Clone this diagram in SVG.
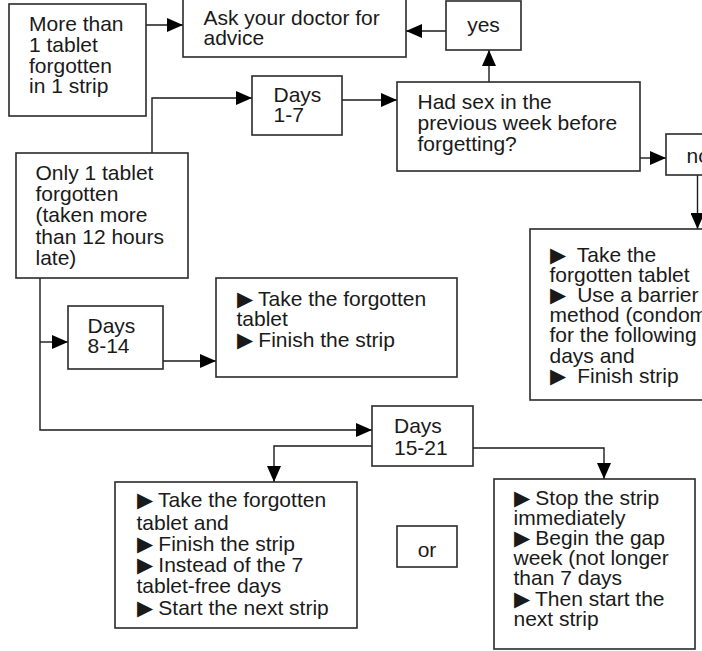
<svg xmlns="http://www.w3.org/2000/svg" width="702" height="651" viewBox="0 0 702 651">
<defs>
<style>
.box{fill:#fff;stroke:#2a2a2a;stroke-width:1.6}
.t{font-family:"Liberation Sans",Arial,sans-serif;font-size:21px;fill:#1a1a1a;white-space:pre}
.c{fill:none;stroke:#1a1a1a;stroke-width:1.4}
</style>
<marker id="ah" markerUnits="userSpaceOnUse" markerWidth="17" markerHeight="14" refX="16" refY="7" orient="auto">
<path d="M0,0 L16,7 L0,14 z" fill="#000"/>
</marker>
</defs>
<rect width="702" height="651" fill="#fff"/>
<g id="connectors">
<path class="c" d="M146,25 H183" marker-end="url(#ah)"/>
<path class="c" d="M152,153 V98 H252" marker-end="url(#ah)"/>
<path class="c" d="M342,100 H397" marker-end="url(#ah)"/>
<path class="c" d="M489,82 V50" marker-end="url(#ah)"/>
<path class="c" d="M446,31 H406" marker-end="url(#ah)"/>
<path class="c" d="M640,158 H666" marker-end="url(#ah)"/>
<path class="c" d="M697.5,175 V229" marker-end="url(#ah)"/>
<path class="c" d="M40,278 V430 H372" marker-end="url(#ah)"/>
<path class="c" d="M40,342 H68" marker-end="url(#ah)"/>
<path class="c" d="M163,361 H216" marker-end="url(#ah)"/>
<path class="c" d="M372,446 H274 V482" marker-end="url(#ah)"/>
<path class="c" d="M473,448 H604 V479" marker-end="url(#ah)"/>
</g>
<g id="more-than-one">
<rect class="box" x="9" y="4" width="137" height="112"/>
<text class="t"><tspan x="29" y="31">More than</tspan><tspan x="29" y="52">1 tablet</tspan><tspan x="29" y="72.5">forgotten</tspan><tspan x="29" y="93">in 1 strip</tspan></text>
</g>
<g id="ask-doctor">
<rect class="box" x="183" y="-5" width="223" height="62"/>
<text class="t"><tspan x="203.5" y="25">Ask your doctor for</tspan><tspan x="203.5" y="45">advice</tspan></text>
</g>
<g id="yes">
<rect class="box" x="446" y="1" width="75" height="49"/>
<text class="t" x="483.5" y="32" text-anchor="middle">yes</text>
</g>
<g id="days-1-7">
<rect class="box" x="252" y="76" width="90" height="59"/>
<text class="t"><tspan x="273.5" y="102">Days</tspan><tspan x="273.5" y="122">1-7</tspan></text>
</g>
<g id="had-sex">
<rect class="box" x="397" y="82" width="243" height="89"/>
<text class="t"><tspan x="417.5" y="108.5">Had sex in the</tspan><tspan x="417.5" y="130">previous week before</tspan><tspan x="417.5" y="151">forgetting?</tspan></text>
</g>
<g id="no">
<rect class="box" x="666" y="134" width="60" height="41"/>
<text class="t" x="686.5" y="162.5">no</text>
</g>
<g id="take-barrier">
<rect class="box" x="530" y="229" width="200" height="171"/>
<text class="t"><tspan x="549.5" y="262">▶  Take the</tspan><tspan x="549.5" y="282">forgotten tablet</tspan><tspan x="549.5" y="302">▶  Use a barrier</tspan><tspan x="549.5" y="322">method (condom</tspan><tspan x="549.5" y="342">for the following</tspan><tspan x="549.5" y="362.5">days and</tspan><tspan x="549.5" y="383">▶  Finish strip</tspan></text>
</g>
<g id="only-one">
<rect class="box" x="16" y="153" width="172" height="125"/>
<text class="t"><tspan x="35.5" y="180">Only 1 tablet</tspan><tspan x="35.5" y="201">forgotten</tspan><tspan x="35.5" y="222">(taken more</tspan><tspan x="35.5" y="243.5">than 12 hours</tspan><tspan x="35.5" y="265">late)</tspan></text>
</g>
<g id="days-8-14">
<rect class="box" x="68" y="306" width="95" height="63"/>
<text class="t"><tspan x="87.5" y="333">Days</tspan><tspan x="87.5" y="353">8-14</tspan></text>
</g>
<g id="take-finish">
<rect class="box" x="216" y="278" width="241" height="99"/>
<text class="t"><tspan x="236.5" y="306">▶ Take the forgotten</tspan><tspan x="236.5" y="326">tablet</tspan><tspan x="236.5" y="347">▶ Finish the strip</tspan></text>
</g>
<g id="days-15-21">
<rect class="box" x="372" y="406" width="101" height="60"/>
<text class="t"><tspan x="394" y="432.5">Days</tspan><tspan x="394" y="455">15-21</tspan></text>
</g>
<g id="take-next">
<rect class="box" x="115" y="482" width="242" height="146"/>
<text class="t"><tspan x="136.5" y="507">▶ Take the forgotten</tspan><tspan x="136.5" y="529.5">tablet and</tspan><tspan x="136.5" y="551">▶ Finish the strip</tspan><tspan x="136.5" y="572">▶ Instead of the 7</tspan><tspan x="136.5" y="593">tablet-free days</tspan><tspan x="136.5" y="615">▶ Start the next strip</tspan></text>
</g>
<g id="or">
<rect class="box" x="397" y="526" width="60" height="41"/>
<text class="t" x="427" y="557" text-anchor="middle">or</text>
</g>
<g id="stop-strip">
<rect class="box" x="494" y="479" width="201" height="170"/>
<text class="t"><tspan x="513.5" y="505">▶ Stop the strip</tspan><tspan x="513.5" y="524.5">immediately</tspan><tspan x="513.5" y="545">▶ Begin the gap</tspan><tspan x="513.5" y="565">week (not longer</tspan><tspan x="513.5" y="585">than 7 days</tspan><tspan x="513.5" y="605.5">▶ Then start the</tspan><tspan x="513.5" y="626">next strip</tspan></text>
</g>
</svg>
